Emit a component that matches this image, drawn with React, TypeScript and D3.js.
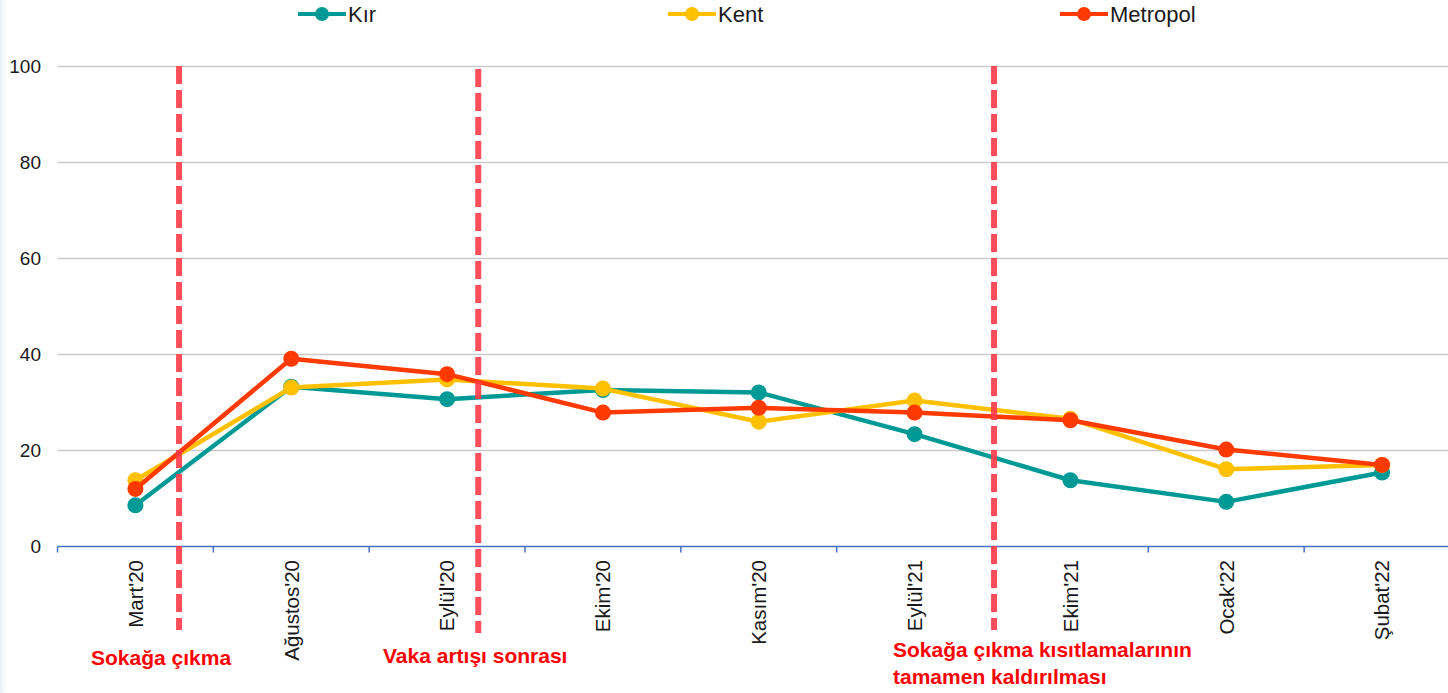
import React from "react";
import * as d3 from "d3";

const categories = ["Mart'20", "Ağustos'20", "Eylül'20", "Ekim'20", "Kasım'20", "Eylül'21", "Ekim'21", "Ocak'22", "Şubat'22"];
const kir = [8.6, 33.3, 30.7, 32.6, 32.1, 23.4, 13.8, 9.3, 15.4];
const kent = [13.8, 33.1, 34.8, 32.9, 26.0, 30.4, 26.6, 16.1, 17.0];
const metropol = [12.0, 39.1, 35.9, 27.9, 28.9, 27.9, 26.3, 20.2, 17.0];
const yTicks = [0, 20, 40, 60, 80, 100];
const seriesNames = ["Kır", "Kent", "Metropol"];
const seriesColors = ["#009a96", "#ffc000", "#ff3a00"];
// event markers: position between categories (fractional index)
const eventPositions = [0.28, 2.2, 5.51];
const eventLabels = [["Sokağa çıkma"], ["Vaka artışı sonrası"], ["Sokağa çıkma kısıtlamalarının", "tamamen kaldırılması"]];

const W = 1448;
const H = 693;

export default function App() {
  const x = d3.scaleBand<string>().domain(categories).range([57.5, 1460]).padding(0);
  const y = d3.scaleLinear().domain([0, 100]).range([546.5, 66.5]);
  const bw = x.bandwidth();
  const cx = (i: number) => (x(categories[i]) as number) + bw / 2;
  const fx = (f: number) => 57.5 + bw / 2 + f * bw;
  const line = d3.line<number>().x((_, i) => cx(i)).y((v) => y(v));
  const allSeries = [kir, kent, metropol];
  const legendX = [298, 668, 1060];
  const evTop = [66, 69, 66];
  const evBottom = [630, 633, 630];
  const labelX = [91, 383, 893];
  const labelY = [665, 663, 657];

  return (
    <svg width={W} height={H} style={{ position: "absolute", left: 0, top: 0, background: "#fff" }}
      fontFamily="'Liberation Sans', Arial, sans-serif">
      <defs>
        <linearGradient id="edge" x1="0" x2="1" y1="0" y2="0">
          <stop offset="0" stopColor="#e2f3f1" />
          <stop offset="1" stopColor="#ffffff" stopOpacity="0" />
        </linearGradient>
      </defs>
      <rect x={0} y={0} width={W} height={H} fill="#fff" />
      <rect x={0} y={0} width={10} height={H} fill="url(#edge)" />
      {/* gridlines */}
      {yTicks.filter((t) => t > 0).map((t) => (
        <line key={t} x1={57.5} x2={W} y1={y(t)} y2={y(t)} stroke="#c9c9c9" strokeWidth={1.5} />
      ))}
      {/* y labels */}
      {yTicks.map((t) => (
        <text key={t} x={41} y={y(t)} dy="0.36em" textAnchor="end" fontSize={19} fill="#1a1a1a">{t}</text>
      ))}
      {/* x axis */}
      <line x1={57.5} x2={W} y1={y(0)} y2={y(0)} stroke="#4472c4" strokeWidth={1.5} />
      {categories.map((c, i) => (
        <line key={"t" + i} x1={x(c) as number} x2={x(c) as number} y1={y(0)} y2={y(0) + 6} stroke="#4472c4" strokeWidth={1.5} />
      ))}
      {categories.map((c, i) => (
        <text key={"l" + i} transform={`translate(${cx(i)},560) rotate(-90)`} textAnchor="end" dy="0.36em"
          fontSize={20.5} fill="#1a1a1a">{c}</text>
      ))}
      {/* series */}
      {allSeries.map((s, si) => (
        <g key={si}>
          <path d={line(s) as string} fill="none" stroke={seriesColors[si]} strokeWidth={4.5} strokeLinejoin="round" />
          {s.map((v, i) => (
            <circle key={i} cx={cx(i)} cy={y(v)} r={8} fill={seriesColors[si]} />
          ))}
        </g>
      ))}
      {/* event lines */}
      {eventPositions.map((f, i) => (
        <line key={"e" + i} x1={fx(f)} x2={fx(f)} y1={evTop[i]} y2={evBottom[i]} stroke="#ff3b47" strokeOpacity={0.9}
          strokeWidth={6} strokeDasharray="18 6" />
      ))}
      {eventLabels.map((lines, i) => (
        <text key={"a" + i} x={labelX[i]} y={labelY[i]} fontSize={21} fontWeight="bold" fill="#ff0000">
          {lines.map((l, j) => (
            <tspan key={j} x={labelX[i]} dy={j === 0 ? 0 : 27}>{l}</tspan>
          ))}
        </text>
      ))}
      {/* legend */}
      {seriesNames.map((n, i) => (
        <g key={"lg" + i}>
          <line x1={legendX[i]} x2={legendX[i] + 48} y1={14} y2={14} stroke={seriesColors[i]} strokeWidth={4} />
          <circle cx={legendX[i] + 24} cy={14} r={7} fill={seriesColors[i]} />
          <text x={legendX[i] + 50} y={22} fontSize={22} fill="#1a1a1a">{n}</text>
        </g>
      ))}
    </svg>
  );
}
